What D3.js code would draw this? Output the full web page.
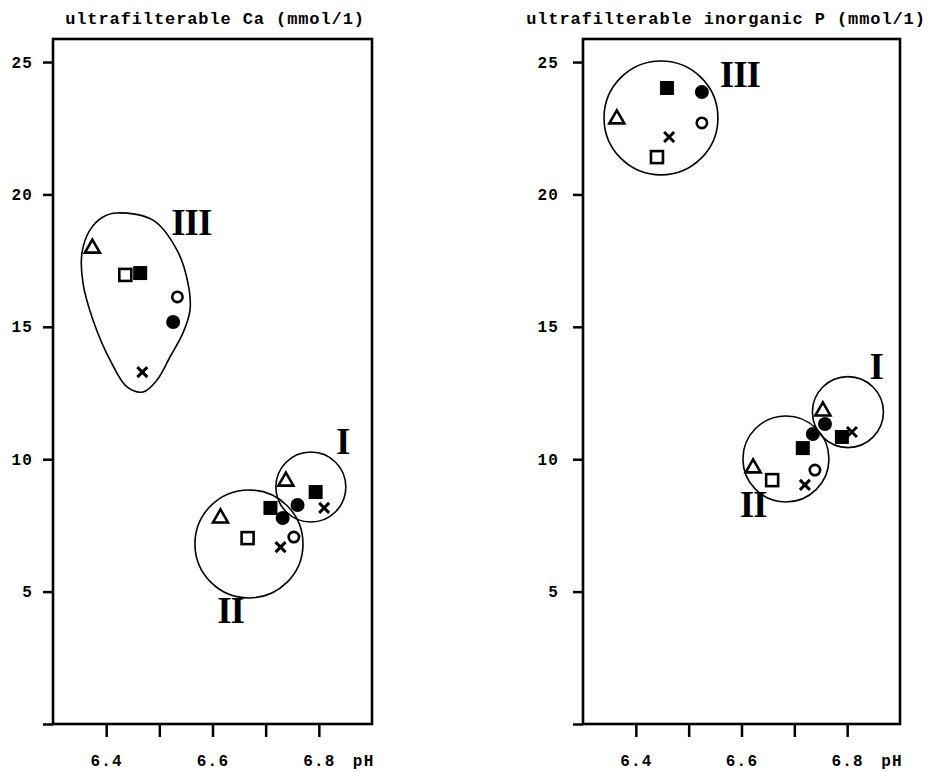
<!DOCTYPE html>
<html><head><meta charset="utf-8">
<script src="https://cdn.jsdelivr.net/npm/d3@7"></script>
<style>body{margin:0;background:#fff} svg{display:block}</style>
</head><body>
<svg id="chart" width="930" height="771"></svg>
<script>
// ---------- data ----------
const xTicks = [6.4, 6.5, 6.6, 6.7, 6.8];
const xTickLabels = ["6.4", "", "6.6", "", "6.8"];
const yTicks = [0, 5, 10, 15, 20, 25];
const yTickLabels = ["", "5", "10", "15", "20", "25"];
const panelTitles = ["ultrafilterable Ca (mmol/1)", "ultrafilterable inorganic P (mmol/1)"];
const xUnitLabel = "pH";

// [symbol, pH, value]
const caPoints = [
  ["triangle", 6.374, 18.01], ["openSquare", 6.436, 16.96], ["filledSquare", 6.464, 17.03],
  ["openCircle", 6.534, 16.13], ["filledCircle", 6.526, 15.18], ["cross", 6.468, 13.29],
  ["triangle", 6.615, 7.82], ["openSquare", 6.666, 7.02], ["filledSquare", 6.709, 8.16],
  ["filledCircle", 6.732, 7.78], ["openCircle", 6.753, 7.06], ["cross", 6.728, 6.68],
  ["triangle", 6.738, 9.21], ["filledSquare", 6.794, 8.76], ["filledCircle", 6.760, 8.27],
  ["cross", 6.810, 8.16]
];
const pPoints = [
  ["filledSquare", 6.459, 24.02], ["filledCircle", 6.525, 23.87], ["triangle", 6.364, 22.89],
  ["openCircle", 6.525, 22.70], ["cross", 6.463, 22.17], ["openSquare", 6.440, 21.41],
  ["triangle", 6.754, 11.86], ["filledSquare", 6.790, 10.84], ["cross", 6.809, 11.03],
  ["filledCircle", 6.758, 11.33],
  ["filledSquare", 6.716, 10.42], ["filledCircle", 6.735, 10.95], ["triangle", 6.622, 9.71],
  ["openSquare", 6.658, 9.21], ["openCircle", 6.739, 9.59], ["cross", 6.720, 9.03]
];
// cluster circles [pH, value, radius in pH units]
const caCircles = [[6.785, 8.95, 0.0658], [6.6686, 6.80, 0.1016]];
const pCircles = [[6.4476, 22.89, 0.1078], [6.8014, 11.78, 0.0672], [6.6841, 10.01, 0.0814]];
// cluster III outline for Ca [pH, value]
const caBlob = [
  [6.4204, 19.30], [6.4881, 19.03], [6.5332, 17.90], [6.5539, 16.65], [6.5577, 15.63],
  [6.5445, 14.77], [6.5200, 13.86], [6.4956, 12.99], [6.4693, 12.54], [6.4392, 12.73],
  [6.4072, 13.75], [6.3752, 15.26], [6.3564, 16.65], [6.3545, 17.79], [6.3696, 18.66],
  [6.3940, 19.15]
];
// cluster labels [text, pH, value]
const caLabels = [["III", 6.560, 18.48], ["I", 6.845, 10.2], ["II", 6.634, 3.80]];
const pLabels = [["III", 6.597, 24.06], ["I", 6.855, 13.02], ["II", 6.622, 7.82]];

// ---------- drawing ----------
const svg = d3.select("#chart");
const plotTop = 39, plotBottom = 724;
const panels = [
  {x0: 53, x1: 372, title: panelTitles[0], titleX: 215, yPad: 10, points: caPoints, circles: caCircles, blob: caBlob, labels: caLabels},
  {x0: 583, x1: 900, title: panelTitles[1], titleX: 726, yPad: 14, points: pPoints, circles: pCircles, blob: null, labels: pLabels}
];
const monoFont = "'Liberation Mono', 'DejaVu Sans Mono', monospace";

panels.forEach(p => {
  const x = d3.scaleLinear().domain([6.3, 6.9]).range([p.x0, p.x1]);
  const y = d3.scaleLinear().domain([0, 25.87]).range([plotBottom, plotTop]);
  const g = svg.append("g");

  // title
  g.append("text").attr("x", p.titleX).attr("y", 24).attr("text-anchor", "middle")
    .attr("font-family", monoFont).attr("font-weight", "bold").attr("font-size", 17)
    .attr("letter-spacing", 0.9).text(p.title);

  // y axis
  const yAxis = g.append("g").attr("transform", `translate(${p.x0},0)`)
    .call(d3.axisLeft(y).tickValues(yTicks).tickSize(10).tickPadding(p.yPad)
      .tickFormat((d, i) => yTickLabels[i]));
  // x axis
  const xAxis = g.append("g").attr("transform", `translate(0,${plotBottom})`)
    .call(d3.axisBottom(x).tickValues(xTicks).tickSize(13).tickPadding(18)
      .tickFormat((d, i) => xTickLabels[i]));
  [yAxis, xAxis].forEach(a => {
    a.select(".domain").remove();
    a.selectAll(".tick line").attr("stroke", "#000").attr("stroke-width", 2.5);
    a.selectAll(".tick text").attr("font-family", monoFont).attr("font-weight", "bold")
      .attr("font-size", 16).attr("letter-spacing", 1.2).attr("fill", "#000");
  });
  // pH unit label
  g.append("text").attr("x", x(6.8) + 34).attr("y", plotBottom + 42)
    .attr("font-family", monoFont).attr("font-weight", "bold").attr("font-size", 16)
    .attr("letter-spacing", 1.2).text(xUnitLabel);

  // frame
  g.append("rect").attr("x", p.x0).attr("y", plotTop).attr("width", p.x1 - p.x0).attr("height", plotBottom - plotTop)
    .attr("fill", "none").attr("stroke", "#000").attr("stroke-width", 2.6);

  // cluster outlines
  g.selectAll(".clu").data(p.circles).join("circle")
    .attr("cx", d => x(d[0])).attr("cy", d => y(d[1]))
    .attr("r", d => x(d[0] + d[2]) - x(d[0]))
    .attr("fill", "none").attr("stroke", "#000").attr("stroke-width", 1.6);
  if (p.blob) {
    g.append("path").datum(p.blob)
      .attr("d", d3.line().x(d => x(d[0])).y(d => y(d[1])).curve(d3.curveCatmullRomClosed))
      .attr("fill", "none").attr("stroke", "#000").attr("stroke-width", 1.6);
  }

  // markers
  const m = g.selectAll(".pt").data(p.points).join("g")
    .attr("transform", d => `translate(${x(d[1])},${y(d[2])})`);
  m.each(function(d) {
    const s = d3.select(this);
    if (d[0] === "triangle") {
      s.append("path").attr("d", "M0,-7.5L7.5,5.5L-7.5,5.5Z").attr("fill", "#fff")
        .attr("stroke", "#000").attr("stroke-width", 2.6).attr("stroke-linejoin", "miter");
    } else if (d[0] === "openSquare") {
      s.append("rect").attr("x", -6).attr("y", -6).attr("width", 12).attr("height", 12)
        .attr("fill", "#fff").attr("stroke", "#000").attr("stroke-width", 2.6);
    } else if (d[0] === "filledSquare") {
      s.append("rect").attr("x", -7).attr("y", -7).attr("width", 14).attr("height", 14).attr("fill", "#000");
    } else if (d[0] === "openCircle") {
      s.append("circle").attr("r", 5.2).attr("fill", "#fff").attr("stroke", "#000").attr("stroke-width", 2.6);
    } else if (d[0] === "filledCircle") {
      s.append("circle").attr("r", 7).attr("fill", "#000");
    } else if (d[0] === "cross") {
      s.append("path").attr("d", "M-5,-5L5,5M5,-5L-5,5").attr("stroke", "#000")
        .attr("stroke-width", 3).attr("fill", "none");
    }
  });

  // cluster labels
  g.selectAll(".lab").data(p.labels).join("text")
    .attr("x", d => x(d[1])).attr("y", d => y(d[2])).attr("text-anchor", "middle")
    .attr("font-family", "'Liberation Serif', 'DejaVu Serif', serif").attr("font-weight", "bold")
    .attr("font-size", 37).attr("letter-spacing", -1).text(d => d[0]);
});
</script>
</body></html>
